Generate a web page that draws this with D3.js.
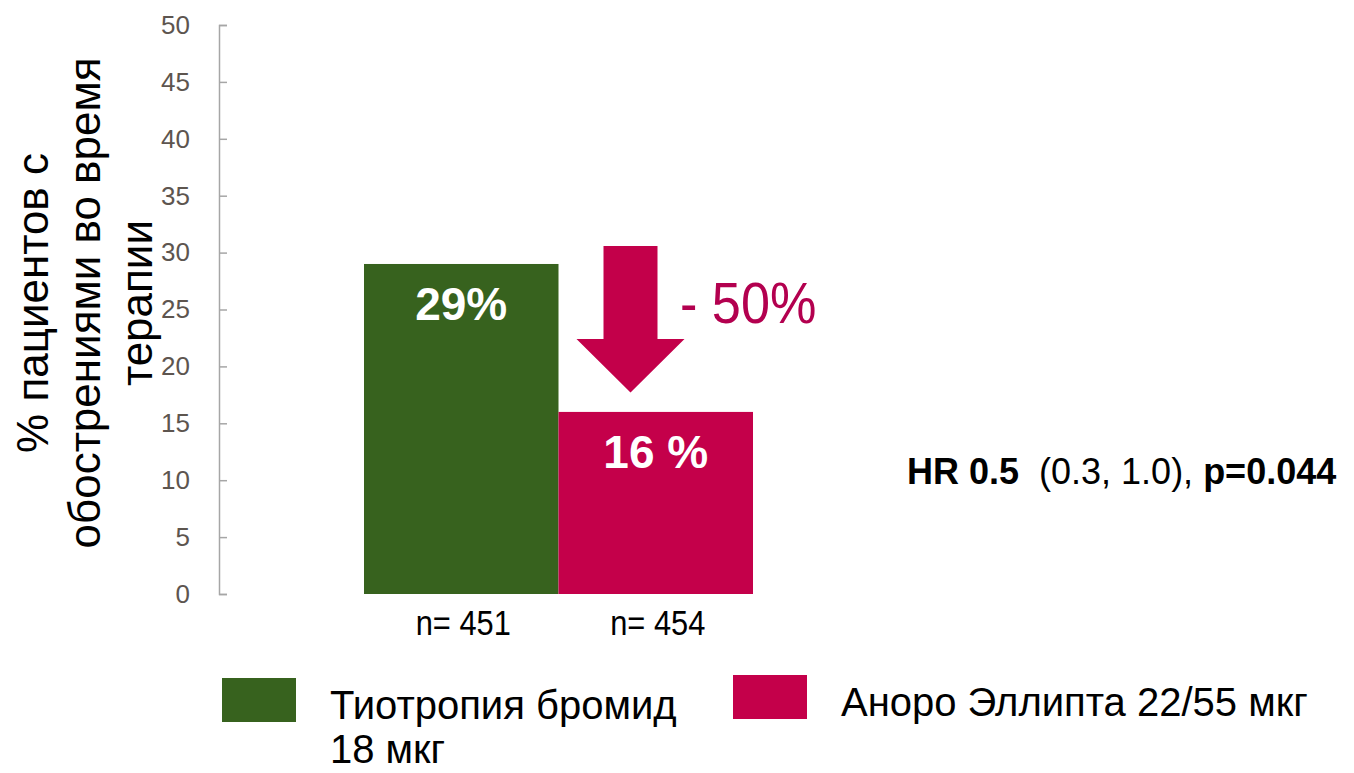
<!DOCTYPE html>
<html>
<head>
<meta charset="utf-8">
<script src="https://cdn.jsdelivr.net/npm/d3@7"></script>
<style>
  body { margin: 0; background: #fff; }
  svg text { font-family: "Liberation Sans", Arial, sans-serif; }
</style>
</head>
<body>
<div id="chart"></div>
<script>
// data
var categories = ['n= 451', 'n= 454'];
var seriesNames = ['Тиотропия бромид 18 мкг', 'Аноро Эллипта 22/55 мкг'];
var values = [29, 16];
var valueLabels = ['29%', '16 %'];
var yTicks = [0, 5, 10, 15, 20, 25, 30, 35, 40, 45, 50];
var colors = ['#37621e', '#c4004a'];

var W = 1354, H = 773;
var margin = {top: 25, left: 219, bottom: 179};
var plotH = H - margin.top - margin.bottom; // 569

var svg = d3.select('#chart').append('svg')
  .attr('width', W).attr('height', H);

var y = d3.scaleLinear().domain([0, 50]).range([margin.top + plotH, margin.top]);
var x = d3.scaleBand().domain(categories).range([364, 753]).padding(0);

// y axis
var yAxis = svg.append('g')
  .attr('transform', 'translate(' + margin.left + ',0)')
  .call(d3.axisRight(y).tickValues(yTicks).tickSize(8).tickSizeOuter(8));
yAxis.select('.domain').attr('stroke', '#a6a6a6').attr('stroke-width', 1.5);
yAxis.selectAll('.tick line').attr('stroke', '#a6a6a6').attr('stroke-width', 1.5);
yAxis.selectAll('.tick text')
  .attr('x', -29).attr('text-anchor', 'end')
  .attr('fill', '#5d554f').style('font-size', '26px');

// bars
svg.append('g').selectAll('rect')
  .data(values).enter().append('rect')
  .attr('x', function (d, i) { return x(categories[i]); })
  .attr('y', function (d) { return y(d); })
  .attr('width', x.bandwidth())
  .attr('height', function (d) { return y(0) - y(d); })
  .attr('fill', function (d, i) { return colors[i]; });

// bar value labels
svg.append('g').selectAll('text')
  .data(values).enter().append('text')
  .attr('x', function (d, i) { return x(categories[i]) + x.bandwidth() / 2; })
  .attr('y', function (d) { return y(d) + 56; })
  .attr('text-anchor', 'middle')
  .attr('fill', '#fff')
  .style('font-size', '46px').style('font-weight', 'bold')
  .text(function (d, i) { return valueLabels[i]; });

// category labels (condensed look)
svg.append('g').selectAll('text')
  .data(categories).enter().append('text')
  .attr('transform', function (d) {
    return 'translate(' + (x(d) + x.bandwidth() / 2 + 2) + ',' + (y(0) + 41) + ') scale(0.88,1)';
  })
  .attr('text-anchor', 'middle')
  .attr('fill', '#000')
  .style('font-size', '35px')
  .text(function (d) { return d; });

// y title
var yTitle = svg.append('text')
  .attr('transform', 'translate(0,303) rotate(-90)')
  .attr('text-anchor', 'middle')
  .style('font-size', '44px').attr('fill', '#000');
['% пациентов с', 'обострениями во время', 'терапии'].forEach(function (t, i) {
  yTitle.append('tspan').attr('x', 0).attr('y', 48 + i * 52).text(t);
});

// arrow
var ax = x(categories[1]) + 72;
var arrow = d3.path();
arrow.moveTo(ax - 27, 246);
arrow.lineTo(ax + 27, 246);
arrow.lineTo(ax + 27, y(22.4));
arrow.lineTo(ax + 54, y(22.4));
arrow.lineTo(ax, y(17.7));
arrow.lineTo(ax - 54, y(22.4));
arrow.lineTo(ax - 27, y(22.4));
arrow.closePath();
svg.append('path').attr('d', arrow.toString()).attr('fill', '#c3004a');

svg.append('text')
  .attr('transform', 'translate(680,323) scale(0.9,1)')
  .attr('fill', '#b3004f')
  .style('font-size', '58px')
  .text('- 50%');

// HR text
var hr = svg.append('text').attr('x', 907).attr('y', 484)
  .style('font-size', '36px').attr('fill', '#000');
hr.append('tspan').style('font-weight', 'bold').text('HR 0.5');
hr.append('tspan').text('\u00a0\u00a0(0.3, 1.0), ');
hr.append('tspan').style('font-weight', 'bold').text('p=0.044');

// legend
var legendItems = [
  {x: 222, y: 678, lines: ['Тиотропия бромид', '18 мкг']},
  {x: 733, y: 675, lines: ['Аноро Эллипта 22/55 мкг']}
];
var lg = svg.append('g').selectAll('g').data(legendItems).enter().append('g');
lg.append('rect')
  .attr('x', function (d) { return d.x; })
  .attr('y', function (d) { return d.y; })
  .attr('width', 74).attr('height', 44)
  .attr('fill', function (d, i) { return colors[i]; });
lg.each(function (d) {
  var t = d3.select(this).append('text')
    .style('font-size', '40px').attr('fill', '#000');
  d.lines.forEach(function (line, j) {
    t.append('tspan').attr('x', d.x + 108).attr('y', d.y + 41 + j * 44).text(line);
  });
});
</script>
</body>
</html>
